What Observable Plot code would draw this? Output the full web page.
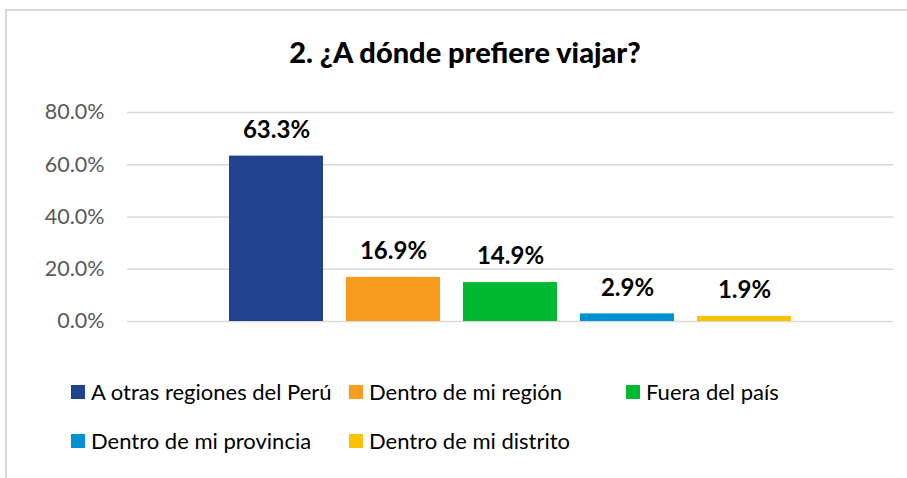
<!DOCTYPE html>
<html>
<head>
<meta charset="utf-8">
<script src="https://cdn.jsdelivr.net/npm/d3@7"></script>
<script src="https://cdn.jsdelivr.net/npm/@observablehq/plot@0.6"></script>
<style>
  html, body { margin: 0; padding: 0; background: #fff; }
  #wrap { position: relative; width: 907px; height: 478px; overflow: hidden; font-family: Lato, "Open Sans", sans-serif; }
  #frame { position: absolute; left: 5px; top: 9px; width: 940px; height: 500px; border: 2px solid #d9d9d9; box-sizing: border-box; }
  #title { position: absolute; left: 5px; width: 920px; top: 34px; text-align: center; font-weight: 900; font-size: 29px; color: #000; line-height: 36px; }
  #chart { position: absolute; left: 0; top: 80px; }
  .leg { position: absolute; display: flex; align-items: center; font-size: 22px; color: #000; white-space: nowrap; line-height: 24px; }
  .leg .sw { width: 14px; height: 14px; margin-right: 6px; flex: none; }
</style>
</head>
<body>
<div id="wrap">
  <div id="frame"></div>
  <div id="title">2. ¿A dónde prefiere viajar?</div>
  <div id="chart"></div>
</div>
<script>
const categories = ["A otras regiones del Perú", "Dentro de mi región", "Fuera del país", "Dentro de mi provincia", "Dentro de mi distrito"];
const values = [63.3, 16.9, 14.9, 2.9, 1.9];
const colors = ["#21428F", "#F89C1E", "#00B932", "#0091D2", "#FFC000"];
const yTicks = [0, 20, 40, 60, 80];

const data = categories.map((c, i) => ({cat: c, value: values[i]}));

const plot = Plot.plot({
  width: 907,
  height: 270,
  marginLeft: 127,
  marginRight: 14,
  marginTop: 32,
  marginBottom: 29,
  style: {fontFamily: "Lato, 'Open Sans', sans-serif", fontSize: "21.5px", color: "#595959", background: "transparent"},
  x: {domain: categories, paddingInner: 0.2, paddingOuter: 0.86, axis: null},
  y: {domain: [0, 80], ticks: yTicks, tickSize: 0, tickPadding: 23, tickFormat: d => d.toFixed(1) + "%", label: null},
  color: {domain: categories, range: colors},
  marks: [
    Plot.ruleY(yTicks, {stroke: "#d9d9d9", strokeWidth: 1.5}),
    Plot.barY(data, {x: "cat", y: "value", fill: "cat"}),
    Plot.text(data, {x: "cat", y: "value", text: d => d.value.toFixed(1) + "%", dy: -26, fontWeight: "bold", fontSize: 24, fill: "#000"})
  ]
});
document.getElementById("chart").appendChild(plot);

// legend
const legPos = [[71, 392], [349, 392], [626, 392], [71, 441], [349, 441]];
const wrap = document.getElementById("wrap");
categories.forEach((c, i) => {
  const el = document.createElement("div");
  el.className = "leg";
  el.style.left = legPos[i][0] + "px";
  el.style.top = (legPos[i][1] - 12) + "px";
  const sw = document.createElement("span");
  sw.className = "sw";
  sw.style.background = colors[i];
  const tx = document.createElement("span");
  tx.textContent = c;
  el.appendChild(sw);
  el.appendChild(tx);
  wrap.appendChild(el);
});
</script>
</body>
</html>
